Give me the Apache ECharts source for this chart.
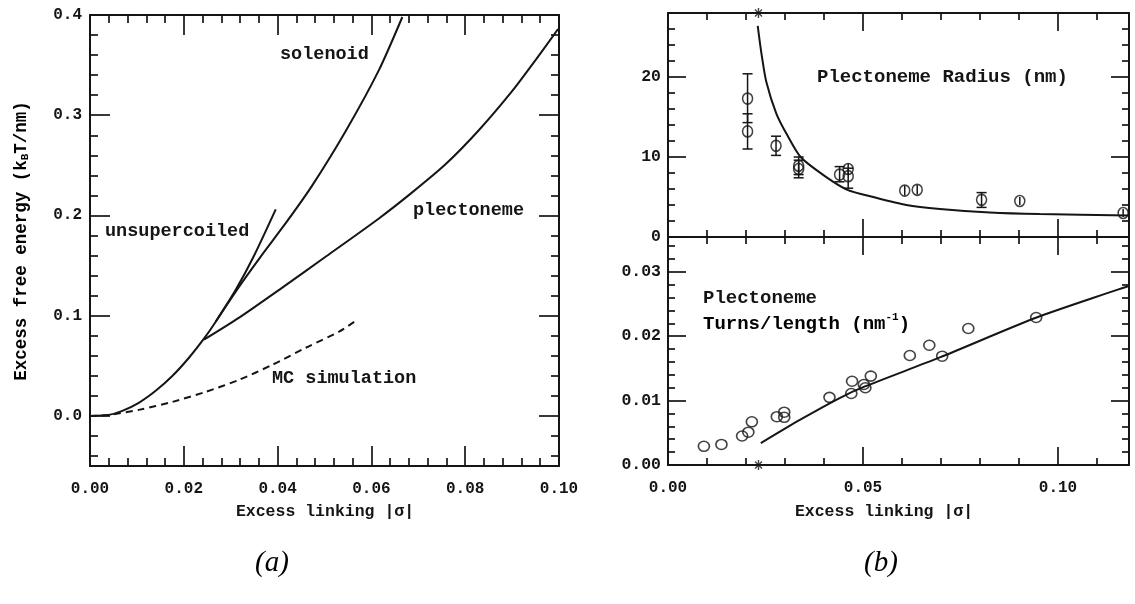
<!DOCTYPE html>
<html><head><meta charset="utf-8">
<script src="https://cdn.jsdelivr.net/npm/echarts@6/dist/echarts.min.js"></script>
<style>html,body{margin:0;padding:0;background:#fff}#c{width:1135px;height:604px}</style>
</head><body><div id="c"></div><script>
// ---------- Data ----------
// Panel (a): excess free energy vs |sigma|
const unsupercoiledCurve = [[0,0],[0.004,0.001],[0.0069,0.005],[0.0104,0.013],[0.014,0.025],[0.0176,0.040],[0.0211,0.058],[0.0243,0.077],[0.0268,0.094],[0.0311,0.126],[0.035,0.160],[0.0396,0.206]];
const solenoidCurve = [[0.0268,0.094],[0.0318,0.129],[0.0364,0.159],[0.0420,0.194],[0.0474,0.230],[0.0545,0.284],[0.0616,0.345],[0.0666,0.398]];
const plectonemeCurve = [[0.0243,0.076],[0.0318,0.098],[0.041,0.128],[0.0503,0.159],[0.0616,0.197],[0.0687,0.223],[0.0758,0.251],[0.0829,0.285],[0.090,0.324],[0.095,0.355],[0.0998,0.386]];
const mcSimulationCurve = [[0,0],[0.004,0.001],[0.0104,0.006],[0.0176,0.014],[0.0247,0.024],[0.0318,0.036],[0.0389,0.051],[0.046,0.068],[0.0531,0.084],[0.0567,0.095]];

// Panel (b) top: plectoneme radius (nm)
const radiusSigma = [0.0204,0.0204,0.0277,0.0335,0.0335,0.0440,0.0462,0.0462,0.0607,0.0639,0.0804,0.0902,0.1167];
const radiusValue = [17.3,13.2,11.4,8.9,8.5,7.8,8.5,7.6,5.8,5.9,4.65,4.5,3.0];
const radiusLow   = [14.3,11.0,10.2,7.8,7.4,6.9,7.8,6.1,5.2,5.3,3.7,4.0,2.5];
const radiusHigh  = [20.4,15.4,12.6,10.0,9.6,8.8,9.2,8.6,6.4,6.5,5.55,5.0,3.5];
const radiusTheory = [[0.0230,26.4],[0.0240,22.8],[0.0252,19.4],[0.0278,15.4],[0.0305,12.8],[0.0340,10.0],[0.0404,7.55],[0.0460,5.9],[0.0526,5.0],[0.0611,4.0],[0.0697,3.5],[0.0825,3.06],[0.0953,2.86],[0.1182,2.7]];

// Panel (b) bottom: plectoneme turns/length (nm^-1)
const turnsSigma = [0.0092,0.0137,0.0190,0.0206,0.0215,0.0279,0.0298,0.0298,0.0414,0.0470,0.0472,0.0502,0.0506,0.0520,0.0620,0.0670,0.0703,0.0770,0.0944];
const turnsValue = [0.0029,0.0032,0.0045,0.0051,0.0067,0.0075,0.0082,0.0074,0.0105,0.0111,0.0130,0.0125,0.0120,0.0138,0.0170,0.0186,0.0169,0.0212,0.0229];
const turnsTheory = [[0.0238,0.0034],[0.0338,0.0070],[0.044,0.0104],[0.0505,0.0122],[0.0697,0.0167],[0.0945,0.0229],[0.1182,0.0278]];

// Threshold markers (asterisks)
const thresholdSigma = [0.0232];

// ---------- Tick values ----------
const xTicksA = [0,0.02,0.04,0.06,0.08,0.10];
const xMinorA = [0.004,0.008,0.012,0.016,0.024,0.028,0.032,0.036,0.044,0.048,0.052,0.056,0.064,0.068,0.072,0.076,0.084,0.088,0.092,0.096];
const yTicksA = [0,0.1,0.2,0.3,0.4];
const yMinorA = [-0.04,-0.02,0.02,0.04,0.06,0.08,0.12,0.14,0.16,0.18,0.22,0.24,0.26,0.28,0.32,0.34,0.36,0.38];
const xTicksB = [0,0.05,0.10];
const xMinorB = [0.01,0.02,0.03,0.04,0.06,0.07,0.08,0.09,0.11];
const yTicksRadius = [0,10,20];
const yMinorRadius = [2,4,6,8,12,14,16,18,22,24,26];
const yTicksTurns = [0,0.01,0.02,0.03];
const yMinorTurns = [0.002,0.004,0.006,0.008,0.012,0.014,0.016,0.018,0.022,0.024,0.026,0.028,0.032,0.034];

// ---------- Build chart ----------
const FONT = 'Liberation Mono';
const INK = '#151515';
const chart = echarts.init(document.getElementById('c'), null, {renderer:'canvas'});

const xAxes = [], yAxes = [];
function axis(list, gridIndex, position, min, max, tickVals, len, showLine, label) {
  list.push({
    type:'value', gridIndex, position, min, max,
    axisLine:{show:showLine, onZero:false, lineStyle:{color:INK, width:2}},
    axisTick:{show:true, inside:true, length:len, customValues:tickVals, lineStyle:{color:INK, width:1.7}},
    axisLabel: label ? {show:true, customValues:label.values, formatter:label.fmt, margin:label.margin,
      color:INK, fontFamily:FONT, fontSize:label.size || 16, fontWeight:'bold'} : {show:false},
    splitLine:{show:false}, minorTick:{show:false}
  });
  return list.length - 1;
}
function frame(g, xMin, xMax, yMin, yMax, xMaj, xMin2, yMaj, yMin2, xLab, yLab, L, l) {
  const ix = axis(xAxes, g, 'bottom', xMin, xMax, xMaj, L, true, xLab);
  axis(xAxes, g, 'bottom', xMin, xMax, xMin2, l, false, null);
  axis(xAxes, g, 'top', xMin, xMax, xMaj, L, true, null);
  axis(xAxes, g, 'top', xMin, xMax, xMin2, l, false, null);
  const iy = axis(yAxes, g, 'left', yMin, yMax, yMaj, L, true, yLab);
  axis(yAxes, g, 'left', yMin, yMax, yMin2, l, false, null);
  axis(yAxes, g, 'right', yMin, yMax, yMaj, L, true, null);
  axis(yAxes, g, 'right', yMin, yMax, yMin2, l, false, null);
  return [ix, iy];
}
const A = frame(0, 0, 0.1, -0.05, 0.4, xTicksA, xMinorA, yTicksA, yMinorA,
  {values:xTicksA, fmt:v=>v.toFixed(2), margin:15},
  {values:yTicksA, fmt:v=>v.toFixed(1), margin:8}, 20, 8);
const B1 = frame(1, 0, 0.1182, 0, 28, xTicksB, xMinorB, yTicksRadius, yMinorRadius,
  null, {values:yTicksRadius, fmt:v=>String(Math.round(v)), margin:7, size:16.5}, 18, 7);
const B2 = frame(2, 0, 0.1182, 0, 0.0354, xTicksB, xMinorB, yTicksTurns, yMinorTurns,
  {values:xTicksB, fmt:v=>v.toFixed(2), margin:15},
  {values:yTicksTurns, fmt:v=>v.toFixed(2), margin:7, size:16.5}, 18, 7);

function lineSeries(idx, data, dashed) {
  return {type:'line', xAxisIndex:idx[0], yAxisIndex:idx[1], data, symbol:'none',
    smooth:0.25,
    lineStyle:{color:INK, width:2, type: dashed ? [7,5] : 'solid'}, z:4, silent:true};
}
const circleStyle = {color:'rgba(255,255,255,0)', borderColor:INK, borderWidth:1.6};
const asterisk = 'path://M5 0 L5 10 M0 5 L10 5 M1.5 1.5 L8.5 8.5 M8.5 1.5 L1.5 8.5';

const series = [
  lineSeries(A, unsupercoiledCurve),
  lineSeries(A, solenoidCurve),
  lineSeries(A, plectonemeCurve),
  lineSeries(A, mcSimulationCurve, true),
  lineSeries(B1, radiusTheory),
  {type:'custom', xAxisIndex:B1[0], yAxisIndex:B1[1], clip:false, z:5, silent:true,
   data: radiusSigma.map((s,i)=>[s, radiusValue[i], radiusLow[i], radiusHigh[i]]),
   renderItem:(params, api)=>{
     const c = api.coord([api.value(0), api.value(1)]);
     const t = api.coord([api.value(0), api.value(3)]);
     const b = api.coord([api.value(0), api.value(2)]);
     const st = {stroke:INK, lineWidth:1.5};
     const ch = [{type:'line', shape:{x1:t[0],y1:t[1],x2:b[0],y2:b[1]}, style:st}];
     if (c[1]-t[1] > 6.5) ch.push({type:'line', shape:{x1:t[0]-5,y1:t[1],x2:t[0]+5,y2:t[1]}, style:st});
     if (b[1]-c[1] > 6.5) ch.push({type:'line', shape:{x1:b[0]-5,y1:b[1],x2:b[0]+5,y2:b[1]}, style:st});
     return {type:'group', children:ch};
   }},
  {type:'scatter', xAxisIndex:B1[0], yAxisIndex:B1[1], symbol:'circle', symbolSize:[10,11], clip:false, z:6,
   data: radiusSigma.map((s,i)=>[s, radiusValue[i]]), itemStyle:circleStyle, silent:true},
  {type:'scatter', xAxisIndex:B1[0], yAxisIndex:B1[1], symbol:asterisk, symbolSize:10, clip:false, z:7,
   data: thresholdSigma.map(s=>[s, 28]), itemStyle:{color:'none', borderColor:INK, borderWidth:1.4}, silent:true},
  lineSeries(B2, turnsTheory),
  {type:'scatter', xAxisIndex:B2[0], yAxisIndex:B2[1], symbol:'circle', symbolSize:[11,10], clip:false, z:6,
   data: turnsSigma.map((s,i)=>[s, turnsValue[i]]), itemStyle:circleStyle, silent:true},
  {type:'scatter', xAxisIndex:B2[0], yAxisIndex:B2[1], symbol:asterisk, symbolSize:10, clip:false, z:7,
   data: thresholdSigma.map(s=>[s, 0]), itemStyle:{color:'none', borderColor:INK, borderWidth:1.4}, silent:true}
];

const T = {fontFamily:FONT, fontSize:18.5, fontWeight:'bold', fill:INK};
function txt(x, y, text, extra) {
  return {type:'text', x, y, silent:true, style:Object.assign({text, align:'left', verticalAlign:'middle'}, T, extra||{})};
}
const graphic = [
  txt(280, 54, 'solenoid'),
  txt(105, 231, 'unsupercoiled'),
  txt(413, 210, 'plectoneme'),
  txt(272, 378, 'MC simulation'),
  txt(817, 77, 'Plectoneme Radius (nm)', {fontSize:19}),
  txt(703, 298, 'Plectoneme', {fontSize:19}),
  {type:'text', x:703, y:324, silent:true, style:{
    text:'{a|Turns/length (nm}{s|-1}{a|)}', align:'left', verticalAlign:'middle',
    rich:{a:{fontFamily:FONT, fontSize:19, fontWeight:'bold', color:INK, lineHeight:24},
          s:{fontFamily:FONT, fontSize:11, fontWeight:'bold', color:INK, verticalAlign:'top', lineHeight:24, padding:[0,0,9,0]}}}},
  {type:'text', x:22, y:241, rotation:Math.PI/2, silent:true, style:{
    text:'{a|Excess free energy (k}{b|B}{a|T/nm)}', align:'center', verticalAlign:'middle',
    rich:{a:{fontFamily:FONT, fontSize:17.5, fontWeight:'bold', color:INK, lineHeight:22},
          b:{fontFamily:FONT, fontSize:11, fontWeight:'bold', color:INK, lineHeight:22, padding:[7,0,0,0]}}}},
  txt(325, 512, 'Excess linking |σ|', {align:'center', fontSize:16.5}),
  txt(884, 512, 'Excess linking |σ|', {align:'center', fontSize:16.5}),
  {type:'text', x:272, y:563, silent:true, style:{text:'(a)', align:'center', verticalAlign:'middle',
    fontFamily:'Liberation Serif', fontStyle:'italic', fontSize:29, fill:'#000'}},
  {type:'text', x:881, y:563, silent:true, style:{text:'(b)', align:'center', verticalAlign:'middle',
    fontFamily:'Liberation Serif', fontStyle:'italic', fontSize:29, fill:'#000'}}
];

chart.setOption({
  animation:false,
  backgroundColor:'#ffffff',
  grid:[
    {left:90, top:15, width:469, height:451},
    {left:668, top:13, width:461, height:224},
    {left:668, top:237, width:461, height:228}
  ],
  xAxis:xAxes, yAxis:yAxes, series, graphic
});
</script></body></html>
